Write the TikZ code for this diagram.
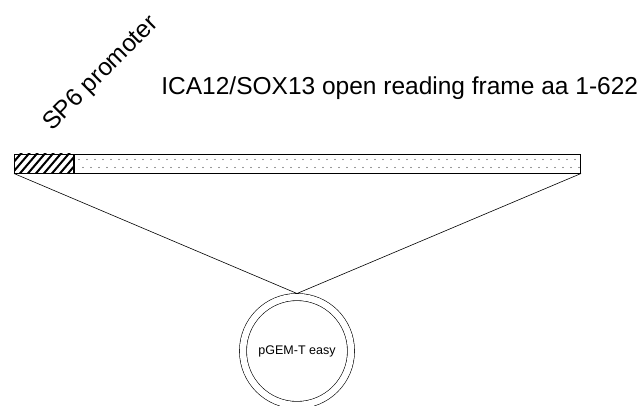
\documentclass[tikz,border=0pt]{standalone}
\usepackage{fontspec}
\setmainfont{Liberation Sans}

\begin{document}
\begin{tikzpicture}[
    x=1pt, y=-1pt,
    thick,
    segment/.style={draw=black, line width=1pt, rectangle, inner sep=0pt,
      minimum height=19pt},
    label/.style={font=\fontsize{24.5}{27}\selectfont, inner sep=0pt}]
    \useasboundingbox (0,0) rectangle (642,405);
    % NODES
    % promoter part of the insert
    \node[segment, minimum width=59pt, anchor=west] (prom) at (14,163.5) {};
    % open reading frame
    \node[segment, minimum width=506pt, anchor=west] (orf) at (prom.east) {};
    % vector
    \node[circle, draw=black, double, line width=0.6pt, double distance=6.5pt,
      minimum size=108pt, inner sep=0pt, outer sep=3.5pt] (vec) at (297,351) {};
    \node[font=\fontsize{12.5}{14}\selectfont] (veclab) at (vec.center) {pGEM-T easy};
    % labels
    \node[label, anchor=base west, rotate=45] (promlab) at (52,132) {SP6 promoter};
    \node[label, anchor=west] (orflab) at (161,88) {ICA12/SOX13 open reading frame aa 1-622};

    % FILLINGS
    % hatching
    \begin{scope}
      \clip (prom.south west) rectangle (prom.north east);
      \foreach \x in {0,8,...,88}
        \draw[line width=2pt] (\x,178)--(\x+24,150);
    \end{scope}
    % dots
    \foreach \x in {79,87,...,575} {
      \fill[black!80] (\x,159.5) circle (0.7pt);
      \fill[black!80] (\x+4,167.5) circle (0.7pt);
    }

    % LINES
    \draw[line width=0.6pt] (prom.south west)--(vec.north);
    \draw[line width=0.6pt] (orf.south east)--(vec.north);
  \end{tikzpicture}
\end{document}
